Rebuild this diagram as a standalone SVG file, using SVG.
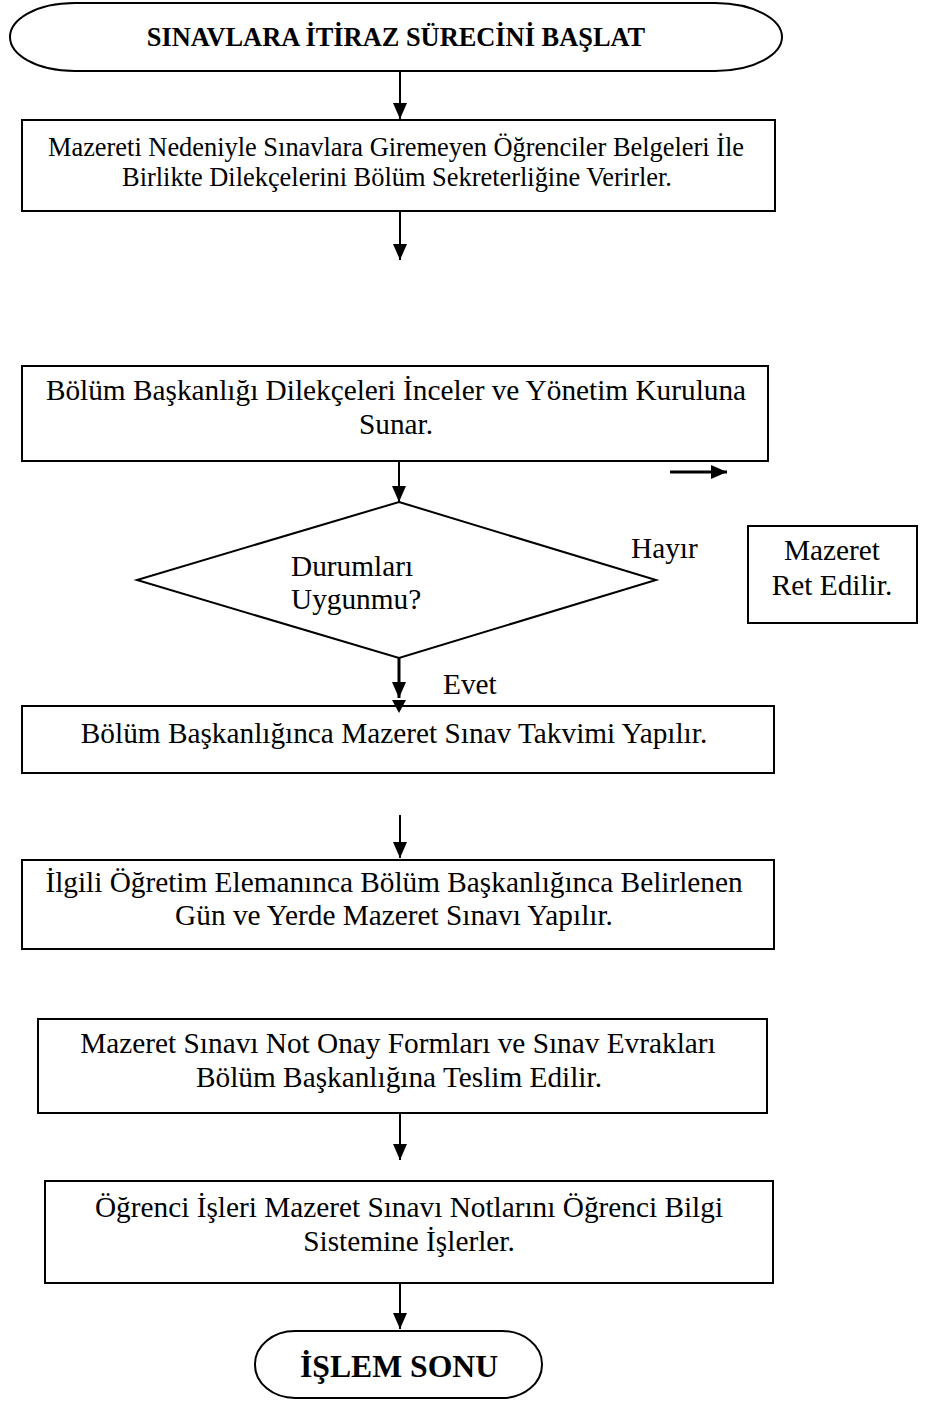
<svg xmlns="http://www.w3.org/2000/svg" width="925" height="1403" viewBox="0 0 925 1403">
  <style>
    .shape { fill: #ffffff; stroke: #000000; stroke-width: 2; }
    .txt { font-family: "Liberation Serif", "Times New Roman", serif; fill: #000000; }
    .body { font-size: 29.3px; text-anchor: middle; }
    .small { font-size: 26.4px; text-anchor: middle; }
    .bold { font-weight: bold; text-anchor: middle; }
    .edge { stroke: #000000; stroke-width: 2; fill: none; }
    .edge-thick { stroke: #000000; stroke-width: 3; fill: none; }
  </style>
  <defs>
    <marker id="head" viewBox="0 0 16 14" refX="16" refY="7" markerWidth="16" markerHeight="14" markerUnits="userSpaceOnUse" orient="auto">
      <path d="M0,0 L16,7 L0,14 Z" fill="#000000"/>
    </marker>
  </defs>
  <rect width="925" height="1403" fill="#ffffff"/>

  <!-- start terminator -->
  <g id="start">
    <path class="shape" d="M75,3 H715 C755,3 782,20 782,37 C782,54 755,71 715,71 H75 C35,71 10,54 10,37 C10,20 35,3 75,3 Z"/>
    <text class="txt bold" x="396" y="46" font-size="26.4">SINAVLARA İTİRAZ SÜRECİNİ BAŞLAT</text>
  </g>

  <!-- step 1 -->
  <g id="dilekce">
    <rect class="shape" x="22" y="120" width="753" height="91"/>
    <text class="txt small" x="396" y="156">Mazereti Nedeniyle Sınavlara Giremeyen Öğrenciler Belgeleri İle</text>
    <text class="txt small" x="397" y="186">Birlikte Dilekçelerini Bölüm Sekreterliğine Verirler.</text>
  </g>

  <!-- step 2 -->
  <g id="inceleme">
    <rect class="shape" x="22" y="366" width="746" height="95"/>
    <text class="txt body" x="396" y="400">Bölüm Başkanlığı Dilekçeleri İnceler ve Yönetim Kuruluna</text>
    <text class="txt body" x="396" y="434">Sunar.</text>
  </g>

  <!-- decision -->
  <g id="karar">
    <polygon class="shape" points="399,502 656,580 399,658 137,580"/>
    <text class="txt" x="291" y="576" font-size="29.3">Durumları</text>
    <text class="txt" x="291" y="609" font-size="29.3">Uygunmu?</text>
  </g>

  <!-- branch labels -->
  <g id="labels">
    <text class="txt" x="631" y="558" font-size="29.3">Hayır</text>
    <text class="txt" x="443" y="694" font-size="29.3">Evet</text>
  </g>

  <!-- rejection -->
  <g id="ret">
    <rect class="shape" x="748" y="526" width="169" height="97"/>
    <text class="txt body" x="832" y="560">Mazeret</text>
    <text class="txt body" x="832" y="595">Ret Edilir.</text>
  </g>

  <!-- step 3 -->
  <g id="takvim">
    <rect class="shape" x="22" y="706" width="752" height="67"/>
    <text class="txt body" x="394" y="743">Bölüm Başkanlığınca Mazeret Sınav Takvimi Yapılır.</text>
  </g>

  <!-- step 4 -->
  <g id="sinav">
    <rect class="shape" x="22" y="860" width="752" height="89"/>
    <text class="txt body" x="394" y="892">İlgili Öğretim Elemanınca Bölüm Başkanlığınca Belirlenen</text>
    <text class="txt body" x="394" y="925">Gün ve Yerde Mazeret Sınavı Yapılır.</text>
  </g>

  <!-- step 5 -->
  <g id="teslim">
    <rect class="shape" x="38" y="1019" width="729" height="94"/>
    <text class="txt body" x="398" y="1053">Mazeret Sınavı Not Onay Formları ve Sınav Evrakları</text>
    <text class="txt body" x="399" y="1087">Bölüm Başkanlığına Teslim Edilir.</text>
  </g>

  <!-- step 6 -->
  <g id="obs">
    <rect class="shape" x="45" y="1181" width="728" height="102"/>
    <text class="txt body" x="409" y="1217">Öğrenci İşleri Mazeret Sınavı Notlarını Öğrenci Bilgi</text>
    <text class="txt body" x="409" y="1251">Sistemine İşlerler.</text>
  </g>

  <!-- end terminator -->
  <g id="end">
    <rect class="shape" x="255" y="1331" width="287" height="67" rx="40" ry="33"/>
    <text class="txt bold" x="399" y="1377" font-size="31.7">İŞLEM SONU</text>
  </g>

  <!-- connectors (drawn last so heads overlap box edges) -->
  <g id="connectors">
    <line class="edge" x1="400" y1="72" x2="400" y2="119" marker-end="url(#head)"/>
    <line class="edge" x1="400" y1="212" x2="400" y2="260" marker-end="url(#head)"/>
    <line class="edge" x1="399" y1="461" x2="399" y2="502" marker-end="url(#head)"/>
    <line class="edge-thick" x1="670" y1="472" x2="727" y2="472" marker-end="url(#head)"/>
    <line class="edge-thick" x1="399" y1="658" x2="399" y2="698" marker-end="url(#head)"/>
    <path d="M392,700 L406,700 L399,713 Z" fill="#000000"/>
    <line class="edge" x1="400" y1="815" x2="400" y2="858" marker-end="url(#head)"/>
    <line class="edge" x1="400" y1="1113" x2="400" y2="1160" marker-end="url(#head)"/>
    <line class="edge" x1="400" y1="1283" x2="400" y2="1329" marker-end="url(#head)"/>
  </g>
</svg>
